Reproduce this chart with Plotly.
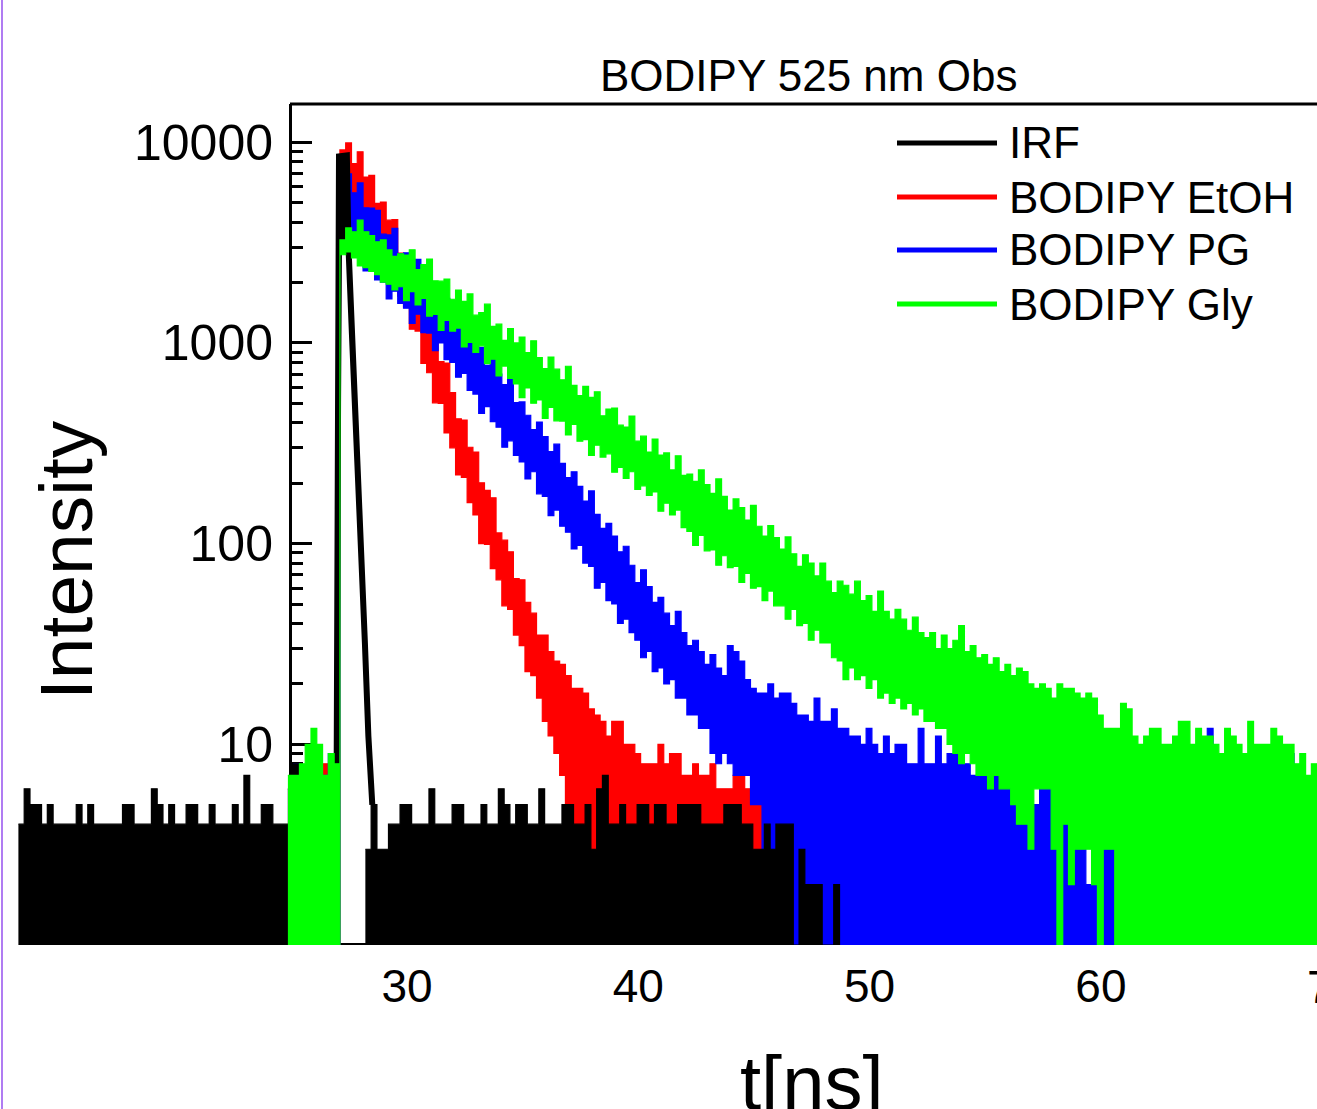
import numpy as np
import plotly.graph_objects as go

# ---------------- data (photon counts) ----------------
series_names = ["IRF", "BODIPY EtOH", "BODIPY PG", "BODIPY Gly"]
series_colors = ["#000000", "#ff0000", "#0000ff", "#00ff00"]

x_tick_vals = [30, 40, 50, 60, 70]
y_tick_vals = [10, 100, 1000, 10000]
y_tick_text = ["10", "100", "1000", "10000"]

dt = 0.25            # ns per digitised sample (local max / min of counts in each bin)
sample_t0 = 24.85    # first sample of the three BODIPY decays (ns)

# IRF: noise before the pulse, the pulse itself, noise after the pulse
irf_pre_t0 = 13.2
irf_pre_max = [4, 6, 5, 5, 4, 5, 4, 4, 4, 4, 5, 4, 5, 4, 4, 4, 4, 4, 5, 5,
               4, 4, 4, 6, 5, 4, 5, 4, 4, 5, 5, 4, 4, 5, 4, 4, 4, 5, 4, 7,
               4, 4, 5, 5, 4, 4, 4, 8, 8, 4, 4, 4, 4, 4, 4, 4]
irf_peak_t = [26.95, 27.02, 27.06, 27.4, 27.47, 27.62, 27.82, 28.0, 28.18, 28.33, 28.5]
irf_peak_max = [4, 500, 8500, 8600, 3000, 1100, 340, 110, 32, 11, 5]
irf_peak_min = [4, 500, 3000, 3000, 3000, 1100, 340, 110, 32, 11, 5]
irf_post_t0 = 28.2
irf_post_max = [3, 5, 3, 3, 4, 4, 5, 5, 4, 4, 4, 6, 4, 4, 4, 5, 5, 4, 4, 4,
                5, 4, 4, 6, 5, 4, 5, 5, 4, 4, 6, 4, 4, 4, 5, 5, 4, 4, 5, 3,
                6, 7, 4, 4, 5, 4, 4, 5, 5, 4, 5, 5, 4, 4, 5, 5, 5, 5, 4, 4,
                4, 4, 5, 5, 5, 4, 4, 3, 3, 4, 3, 4, 4, 4, 1, 3, 2, 2, 2, 1,
                1, 2, 2]

etoh_max = [6, 7, 5, 7, 6, 7, 8, 6, 7,
            9150, 9920, 7830, 8965, 6700, 6830, 4960, 5030, 4090, 4120,
            2800, 2670, 2240, 2055, 1415, 1355, 1060, 808, 794, 565,
            419, 413, 302, 286, 201, 184, 169, 113, 104, 91,
            67, 66, 51, 45, 35, 35, 29, 26, 25, 22, 19,
            19, 18, 15, 14, 13, 11, 13, 13, 10, 10, 9, 8, 8, 8, 10, 8, 9, 9, 7, 7,
            8, 7, 7, 8, 6, 6, 6, 7, 7, 6, 6, 6, 5, 3, 3, 2, 3, 2, 3, 2, 2, 3, 2]
etoh_min = ([0] * 9 +
            [0, 6120, 6590, 5490, 5150, 3905, 3995, 3065, 2905, 2235,
             2185, 1710, 1510, 1170, 1145, 790, 710, 503, 499, 356,
             300, 220, 214, 160, 139, 100, 99, 75, 66, 49,
             47, 35, 31, 23, 22, 17, 13, 11, 9, 7, 5] +
            [0] * 43)

pg_max = ([6, 8, 5, 7, 8, 6, 7, 9, 7] +
          [5780, 6950, 5600, 6270, 4710, 4700, 4580, 3480, 3450, 3720,
           2790, 2810, 2340, 2610, 2285, 2310, 1745, 1680, 1665, 1360,
           1545, 1200, 1035, 1110, 950, 773, 873, 700, 619, 698,
           504, 508, 436, 370, 403, 341, 287, 313, 251, 213,
           228, 193, 163, 183, 140, 119, 126, 109, 91, 97,
           78, 64, 74, 61, 51, 54, 45, 39, 46, 36,
           31, 33, 29, 25, 28, 24, 22, 31, 29, 26,
           21, 19, 18, 18, 20, 17, 18] +
          [18, 16, 14, 14, 13, 17, 13, 13, 15, 12,
           12, 11, 11, 10, 12, 10, 9, 11, 9, 10,
           10, 8, 8, 12, 8, 8, 11, 8, 9, 9,
           8, 8, 7, 7, 7, 10, 7, 7, 7, 7,
           6, 6, 5, 5, 6, 6, 6, 5, 4, 4,
           3, 3, 2, 3, 2, 3, 3, 3, 3, 2,
           2, 2, 2, 2, 2, 2, 2, 1, 2, 2,
           2, 2, 2, 12, 2, 2, 3, 2, 2, 3,
           2, 2, 2, 3, 2, 2, 2, 9, 2, 3,
           2, 2, 2])
pg_min = ([0] * 9 +
          [0, 2825, 3225, 2760, 2750, 2285, 2510, 2060, 2010, 1655,
           1810, 1575, 1490, 1250, 1390, 1125, 1120, 915, 1000, 825,
           800, 675, 705, 580, 556, 445, 481, 405, 380, 302,
           325, 275, 255, 210, 228, 177, 172, 138, 147, 122,
           114, 94, 98, 80, 77, 60, 64, 52, 50, 40,
           42, 36, 33, 27, 29, 23, 24, 20, 21, 17,
           17, 14, 14, 12, 12, 9, 8, 9, 8, 7,
           7, 7, 5, 5, 3, 3, 3] +
          [0] * 93)

gly_max = ([7, 7, 8, 10, 12, 10, 7, 9, 8] +
           [3260, 3740, 3580, 4090, 3580, 3430, 3190, 3260, 2905, 2700, 2780] +
           [2740, 2910, 2320, 2455, 2615, 2040, 2030, 2080, 1650, 1835,
            1610, 1755, 1375, 1415, 1560, 1210, 1240, 1030, 1180, 1000,
            1070, 895, 1025, 845, 745, 850, 740, 655, 765, 615,
            547, 607, 535, 571, 433, 468, 474, 389, 381, 432,
            324, 343, 286, 332, 276, 283, 233, 274, 219, 222,
            204, 233, 197, 178, 210, 172, 147, 167, 151, 131,
            155, 122, 109, 123, 107, 94, 108, 89, 77, 88,
            80, 69, 80, 65, 57, 65, 62, 56, 65, 52,
            55, 46, 58, 46, 42, 47, 42, 37, 43, 36,
            34, 36, 30, 35, 30, 33, 39, 29, 31, 27,
            28, 25, 27, 23, 25, 22] +
           [24, 23, 20, 19, 20, 19, 17, 20, 19, 19,
            18, 17, 18, 17, 14, 12, 12, 12, 16, 15,
            11, 10, 11, 12, 12, 10, 10, 11, 13, 13,
            10, 12, 11, 11, 10, 9, 12, 11, 10, 9,
            13, 10, 10, 10, 12, 11, 10, 10, 8, 9,
            7, 8, 7])
gly_min = ([0] * 9 +
           [0, 2750, 2840, 2650, 2420, 2370, 2270, 2190, 2010, 1960, 1835] +
           [1905, 1625, 1800, 1545, 1665, 1360, 1385, 1155, 1295, 1145,
            1185, 955, 1005, 896, 967, 788, 829, 685, 767, 665,
            625, 534, 596, 501, 520, 421, 477, 409, 408, 348,
            393, 324, 330, 275, 309, 270, 280, 227, 240, 211,
            228, 186, 194, 174, 181, 145, 159, 139, 147, 120,
            115, 98, 110, 92, 93, 78, 87, 76, 77, 64,
            71, 60, 61, 52, 58, 49, 49, 42, 47, 39,
            40, 33, 37, 32, 32, 27, 26, 21, 24, 21,
            22, 19, 21, 17, 18, 16, 17, 15, 16, 14,
            15, 13, 13, 12, 12, 10, 9, 8, 9, 8,
            7, 7, 6, 7, 6, 6] +
           [5, 4, 4, 3, 6, 6, 6, 3, 0, 4, 2, 3, 3, 3, 2, 0, 3, 3, 0] +
           [0] * 34)

# ---------------- figure ----------------
W, H = 1317, 1109
FONT = "Arial, 'Liberation Sans', sans-serif"
BELOW_AXIS = 0.1   # zero counts are drawn below the bottom of the log axis
X_RANGE = [12.404, 69.343]


def polygon(t, cmax, cmin):
    t = np.asarray(t, float)
    x = np.concatenate([t, t[::-1]])
    y = np.concatenate([np.asarray(cmax, float), np.asarray(cmin, float)[::-1]])
    return x, np.where(y <= 0, BELOW_AXIS, y)


def band_trace(t0, cmax, cmin, color):
    x, y = polygon(t0 + dt * np.arange(len(cmax)), cmax, cmin)
    return go.Scatter(x=x, y=y, mode="lines", fill="toself", fillcolor=color,
                      line=dict(color=color, width=1.2, shape="hv"),
                      hoverinfo="skip", showlegend=False)


fig = go.Figure()
# drawing order as in the original: EtOH, PG, IRF, Gly
fig.add_trace(band_trace(sample_t0, etoh_max, etoh_min, series_colors[1]))
fig.add_trace(band_trace(sample_t0, pg_max, pg_min, series_colors[2]))
fig.add_trace(band_trace(irf_pre_t0, irf_pre_max, [0] * len(irf_pre_max), series_colors[0]))
fig.add_trace(band_trace(irf_post_t0, irf_post_max, [0] * len(irf_post_max), series_colors[0]))
px_, py_ = polygon(irf_peak_t, irf_peak_max, irf_peak_min)
fig.add_trace(go.Scatter(x=px_, y=py_, mode="lines", fill="toself",
                         fillcolor=series_colors[0],
                         line=dict(color=series_colors[0], width=6),
                         hoverinfo="skip", showlegend=False))
fig.add_trace(band_trace(sample_t0, gly_max, gly_min, series_colors[3]))

minor_vals = [m * 10 ** e for e in range(4) for m in range(2, 10)]

fig.update_layout(
    width=W, height=H,
    margin=dict(l=0, r=0, t=0, b=0),
    paper_bgcolor="white", plot_bgcolor="white",
    showlegend=False,
    font=dict(family=FONT, color="black"),
    xaxis=dict(domain=[0, 1], range=X_RANGE, showline=False,
               showgrid=False, zeroline=False, ticks="",
               tickvals=x_tick_vals, tickfont=dict(size=46, family=FONT, color="black"),
               ticklabelstandoff=10, automargin=False),
    yaxis=dict(type="log", domain=[164 / H, 1005 / H], range=[0, 4.1904],
               anchor="free", position=290 / W, side="left",
               showline=True, linewidth=3, linecolor="black",
               ticks="inside", ticklen=20, tickwidth=3, tickcolor="black",
               tickvals=y_tick_vals, ticktext=y_tick_text,
               tickfont=dict(size=50, family=FONT, color="black"),
               minor=dict(ticks="inside", ticklen=11, tickwidth=3,
                          tickcolor="black", tickvals=minor_vals, showgrid=False),
               showgrid=False, zeroline=False, layer="below traces",
               ticklabelstandoff=6, automargin=False),
)


def px(x, y):
    return x / W, 1 - y / H


shapes = []
# purple page border at the far left
shapes.append(dict(type="line", xref="paper", yref="paper", x0=2 / W, x1=2 / W, y0=0, y1=1,
                   line=dict(color="#b07cf2", width=2)))
# top frame line and bottom axis line
x0, y0 = px(290, 104)
shapes.append(dict(type="line", xref="paper", yref="paper", x0=x0, x1=1, y0=y0, y1=y0,
                   line=dict(color="black", width=3)))
x0, y0 = px(290, 944)
shapes.append(dict(type="line", xref="paper", yref="paper", x0=x0, x1=1, y0=y0, y1=y0,
                   line=dict(color="black", width=2), layer="below"))

annotations = []
legend_rows = [143, 197, 250, 304]
for name, color, yrow in zip(series_names, series_colors, legend_rows):
    lx0, ly = px(897, yrow)
    lx1, _ = px(997, yrow)
    shapes.append(dict(type="line", xref="paper", yref="paper", x0=lx0, x1=lx1, y0=ly, y1=ly,
                       line=dict(color=color, width=5)))
    tx, _ = px(1007, yrow)
    annotations.append(dict(xref="paper", yref="paper", x=tx, y=ly, text=name,
                            showarrow=False, xanchor="center" if False else "left", yanchor="middle",
                            font=dict(size=44, family=FONT, color="black")))

# the last x tick label (70) sits just past the right edge of the page
x70 = (x_tick_vals[-1] - X_RANGE[0]) / (X_RANGE[1] - X_RANGE[0])
_, ty = px(0, 987)
annotations.append(dict(xref="paper", yref="paper", x=x70, y=ty, text=str(x_tick_vals[-1]),
                        showarrow=False, xanchor="center", yanchor="middle",
                        font=dict(size=46, family=FONT, color="black")))

tx, ty = px(808, 75)
annotations.append(dict(xref="paper", yref="paper", x=tx, y=ty, text="BODIPY 525 nm Obs",
                        showarrow=False, xanchor="center", yanchor="middle",
                        font=dict(size=44, family=FONT, color="black")))
tx, ty = px(812, 1082)
annotations.append(dict(xref="paper", yref="paper", x=tx, y=ty, text="t[ns]",
                        showarrow=False, xanchor="center", yanchor="middle",
                        font=dict(size=76, family=FONT, color="black")))
tx, ty = px(66, 560)
annotations.append(dict(xref="paper", yref="paper", x=tx, y=ty, text="Intensity",
                        showarrow=False, xanchor="center", yanchor="middle", textangle=-90,
                        font=dict(size=75, family=FONT, color="black")))

fig.update_layout(shapes=shapes, annotations=annotations)
fig.write_html("out.html")
